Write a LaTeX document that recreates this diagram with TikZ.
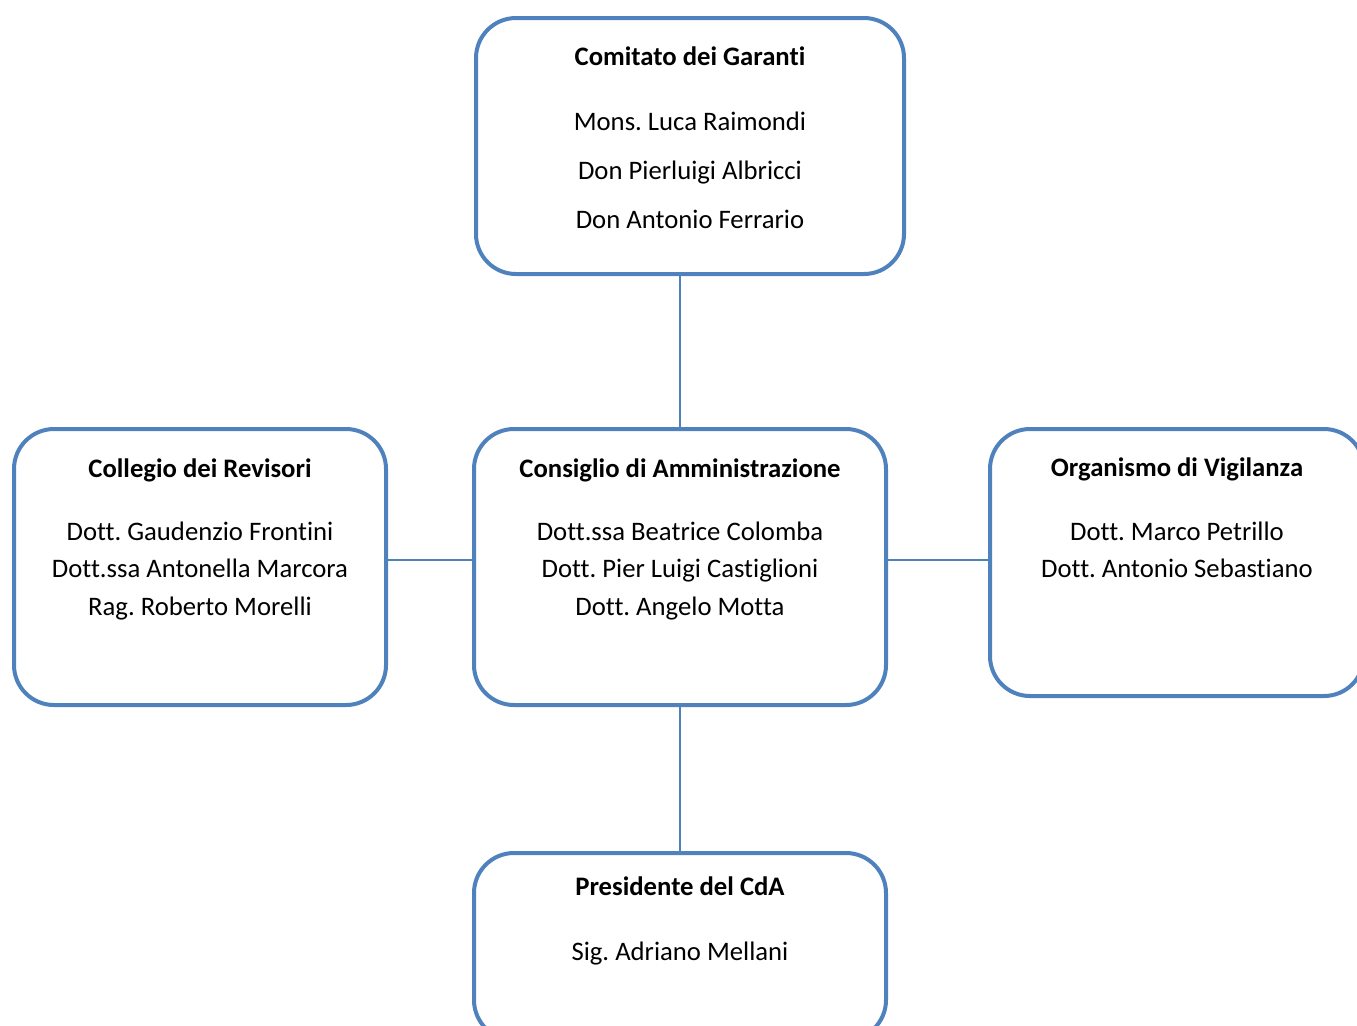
\documentclass[tikz,border=0pt]{standalone}
\usepackage{fontspec}
\setmainfont{Carlito}[Ligatures=NoCommon]
\usetikzlibrary{positioning}
\definecolor{orgblue}{RGB}{79,129,189}
\frenchspacing

\begin{document}
\begin{tikzpicture}[x=0.5pt,y=-0.5pt,
    box/.style={draw=orgblue, line width=2pt, rounded corners=20pt, inner sep=0pt},
    title/.style={anchor=base, font=\bfseries\fontsize{13.35}{16}\selectfont},
    member/.style={anchor=base, font=\fontsize{13.35}{16}\selectfont},
    link/.style={draw=orgblue, line width=1pt}]
    \useasboundingbox (0,0) rectangle (1357,1025);
    \clip (0,0) rectangle (1357,1025);

    % Boxes
    \node[box, minimum width=214pt, minimum height=128pt] (cg) at (690,146) {};
    \node[box, minimum width=206pt, minimum height=138pt] (cda) at (680,567) {};
    \node[box, minimum width=186pt, minimum height=138pt] (rev) at (200,567) {};
    \node[box, minimum width=187pt, minimum height=133.5pt] (ov) at (1177,562.5) {};
    \node[box, minimum width=206pt, minimum height=93.5pt] (pres) at (680,946.5) {};

    % Comitato dei Garanti
    \node[title] (cg-t) at (690,65) {Comitato dei Garanti};
    \foreach \name [count=\i from 0] in {Mons. Luca Raimondi, Don Pierluigi Albricci, Don Antonio Ferrario}
        \node[member] (cg-\i) at (690,130+49*\i) {\name};

    % Consiglio di Amministrazione
    \node[title] (cda-t) at (680,477) {Consiglio di Amministrazione};
    \foreach \name [count=\i from 0] in {Dott.ssa Beatrice Colomba, Dott. Pier Luigi Castiglioni, Dott. Angelo Motta}
        \node[member] (cda-\i) at (680,540+37.5*\i) {\name};

    % Collegio dei Revisori
    \node[title] (rev-t) at (200,477) {Collegio dei Revisori};
    \foreach \name [count=\i from 0] in {Dott. Gaudenzio Frontini, Dott.ssa Antonella Marcora, Rag. Roberto Morelli}
        \node[member] (rev-\i) at (200,540+37.5*\i) {\name};

    % Organismo di Vigilanza
    \node[title] (ov-t) at (1177,476) {Organismo di Vigilanza};
    \foreach \name [count=\i from 0] in {Dott. Marco Petrillo, Dott. Antonio Sebastiano}
        \node[member] (ov-\i) at (1177,540+37.5*\i) {\name};

    % Presidente del CdA
    \node[title] (pres-t) at (680,895) {Presidente del CdA};
    \node[member] (pres-0) at (680,960) {Sig. Adriano Mellani};

    % Links
    \coordinate (mid) at ([yshift=3.5pt]cda.center);
    \draw[link] (cda.north) -- (cda.north |- cg.south);
    \draw[link] (cda.south) -- (pres.north);
    \draw[link] (mid -| rev.east) -- (mid -| cda.west);
    \draw[link] (mid -| cda.east) -- (mid -| ov.west);
\end{tikzpicture}
\end{document}
